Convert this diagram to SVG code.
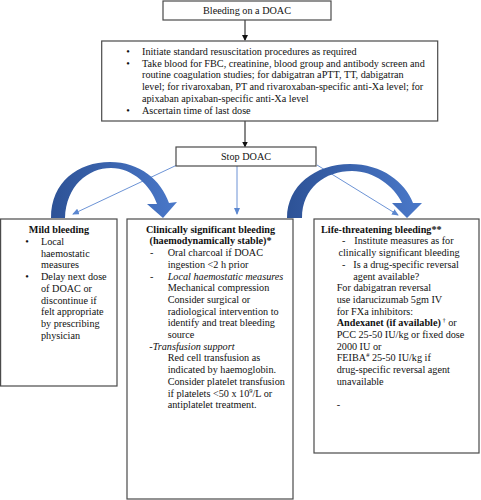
<svg xmlns="http://www.w3.org/2000/svg" width="481" height="500" viewBox="0 0 481 500">
<style>
.box{fill:#fff;stroke:#4a4a4a;stroke-width:1.2}
text{font-family:"Liberation Serif","Times New Roman",serif;font-size:10.2px;fill:#111}
.b{font-weight:bold}
.i{font-style:italic}
.m{text-anchor:middle}
.k{stroke:#111;stroke-width:1;fill:none}
.bl{stroke:#5b87d0;stroke-width:0.9;fill:none}
</style>
<defs>
<marker id="ak" markerWidth="6" markerHeight="6" refX="5" refY="3" orient="auto" markerUnits="userSpaceOnUse"><path d="M0,0 L6,3 L0,6 Z" fill="#111"/></marker>
<marker id="ab" markerWidth="7" markerHeight="6" refX="6" refY="3" orient="auto" markerUnits="userSpaceOnUse"><path d="M0,0 L7,3 L0,6 Z" fill="#5b87d0"/></marker>
<linearGradient id="g" x1="0" y1="0" x2="1" y2="0"><stop offset="0" stop-color="#2d5296"/><stop offset="1" stop-color="#4a78c9"/></linearGradient>
</defs>

<g id="connectors">
<line class="k" x1="245" y1="20" x2="245" y2="40" marker-end="url(#ak)"/>
<line class="k" x1="245" y1="121" x2="245" y2="146.5" marker-end="url(#ak)"/>
<line class="bl" x1="177" y1="165" x2="73" y2="214" marker-end="url(#ab)"/>
<line class="bl" x1="237" y1="166" x2="237" y2="214" marker-end="url(#ab)"/>
<line class="bl" x1="317" y1="165" x2="398" y2="215" marker-end="url(#ab)"/>
<path fill="url(#g)" d="M51,218 C51,182 78,162 110,162 C140,162 161,180 169,203 L177,202 L163,218 L147,204 L157,204 C151,186 133,168 111,168 C88,168 66,186 65,218 Z"/>
<path fill="url(#g)" d="M287,218 C287,186 315,164 350,164 C382,164 405,182 413,203 L422,203 L407,218 L392,203 L402,203 C394,186 374,171 352,171 C325,171 302,188 302,218 Z"/>
</g>

<g id="start">
<rect class="box" x="163" y="1" width="168" height="19"/>
<text class="m" x="247" y="14">Bleeding on a DOAC</text>
</g>

<g id="initial">
<rect class="box" x="101.7" y="41" width="336" height="80"/>
<text class="m" x="128" y="55">•</text>
<text x="142" y="55">Initiate standard resuscitation procedures as required</text>
<text class="m" x="128" y="66.7">•</text>
<text x="142" y="66.7">Take blood for FBC, creatinine, blood group and antibody screen and</text>
<text x="142" y="78.4">routine coagulation studies; for dabigatran aPTT, TT, dabigatran</text>
<text x="142" y="90.1">level; for rivaroxaban, PT and rivaroxaban-specific anti-Xa level; for</text>
<text x="142" y="101.8">apixaban apixaban-specific anti-Xa level</text>
<text class="m" x="128" y="113.5">•</text>
<text x="142" y="113.5">Ascertain time of last dose</text>
</g>

<g id="stop">
<rect class="box" x="176" y="147" width="140" height="19"/>
<text class="m" x="246" y="160">Stop DOAC</text>
</g>

<g id="mild">
<rect class="box" x="0.6" y="219" width="116.4" height="167"/>
<text class="m b" x="59" y="233">Mild bleeding</text>
<text class="m" x="27" y="245">•</text>
<text x="41" y="245">Local</text>
<text x="41" y="256.7">haemostatic</text>
<text x="41" y="268.4">measures</text>
<text class="m" x="27" y="280.1">•</text>
<text x="41" y="280.1">Delay next dose</text>
<text x="41" y="291.8">of DOAC or</text>
<text x="41" y="303.5">discontinue if</text>
<text x="41" y="315.2">felt appropriate</text>
<text x="41" y="326.9">by prescribing</text>
<text x="41" y="338.6">physician</text>
</g>

<g id="clinical">
<rect class="box" x="127" y="219" width="166" height="280"/>
<text class="m b" x="210.5" y="232.7">Clinically significant bleeding</text>
<text class="m b" x="210.5" y="244.4">(haemodynamically stable)*</text>
<text x="150" y="256.1">-</text>
<text x="167.7" y="256.1">Oral charcoal if DOAC</text>
<text x="167.7" y="267.8">ingestion &lt;2 h prior</text>
<text x="150" y="279.5">-</text>
<text class="i" x="167.7" y="279.5">Local haemostatic measures</text>
<text x="167.7" y="291.2">Mechanical compression</text>
<text x="167.7" y="302.9">Consider surgical or</text>
<text x="167.7" y="314.6">radiological intervention to</text>
<text x="167.7" y="326.3">identify and treat bleeding</text>
<text x="167.7" y="338">source</text>
<text class="i" x="149.3" y="349.7">-Transfusion support</text>
<text x="167.7" y="361.4">Red cell transfusion as</text>
<text x="167.7" y="373.1">indicated by haemoglobin.</text>
<text x="167.7" y="384.8">Consider platelet transfusion</text>
<text x="167.7" y="396.5">if platelets &lt;50 x 10<tspan font-size="6.5" dy="-4">9</tspan><tspan dy="4">/L or</tspan></text>
<text x="167.7" y="408.2">antiplatelet treatment.</text>
</g>

<g id="life">
<rect class="box" x="314" y="219" width="165" height="234"/>
<text class="b" x="321" y="232.7">Life-threatening bleeding**</text>
<text x="342" y="244.4">-</text>
<text x="354.3" y="244.4">Institute measures as for</text>
<text x="338.5" y="256.1">clinically significant bleeding</text>
<text x="342" y="267.8">-</text>
<text x="353.3" y="267.8">Is a drug-specific reversal</text>
<text x="353.3" y="279.5">agent available?</text>
<text x="336.7" y="291.2">For dabigatran reversal</text>
<text x="336.7" y="302.9">use idarucizumab 5gm IV</text>
<text x="336.7" y="314.6">for FXa inhibitors:</text>
<text x="336.7" y="326.3"><tspan class="b">Andexanet (if available)</tspan><tspan font-size="6.5" dy="-4"> †</tspan><tspan dy="4"> or</tspan></text>
<text x="336.7" y="338">PCC 25-50 IU/kg or fixed dose</text>
<text x="336.7" y="349.7">2000 IU or</text>
<text x="336.7" y="361.4">FEIBA<tspan font-size="6.5" dy="-4">#</tspan><tspan dy="4"> 25-50 IU/kg if</tspan></text>
<text x="336.7" y="373.1">drug-specific reversal agent</text>
<text x="336.7" y="384.8">unavailable</text>
<text x="336.7" y="408.2">-</text>
</g>
</svg>
